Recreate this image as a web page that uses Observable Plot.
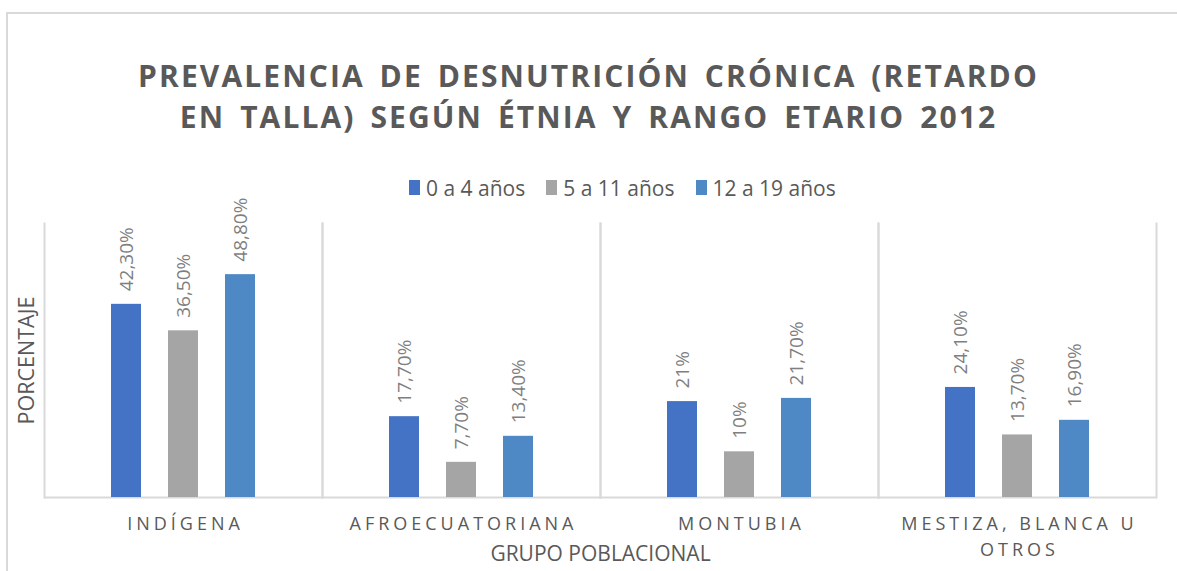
<!DOCTYPE html>
<html>
<head>
<meta charset="utf-8">
<script src="https://cdn.jsdelivr.net/npm/d3@7"></script>
<script src="https://cdn.jsdelivr.net/npm/@observablehq/plot@0.6"></script>
<style>
  html, body { margin: 0; padding: 0; background: #fff; }
  #wrap { position: relative; width: 1177px; height: 571px; overflow: hidden; font-family: "Open Sans", sans-serif; }
  #border { position: absolute; left: 6px; top: 12px; width: 1200px; height: 600px; border-top: 2px solid #d9d9d9; border-left: 2px solid #d9d9d9; }
  #title { position: absolute; left: 0; top: 55px; width: 1177px; text-align: center; font-weight: 700; font-size: 30px; line-height: 41px; color: #595959; letter-spacing: 2.1px; word-spacing: 5px; }
  #legend { position: absolute; left: 409px; top: 171px; }
  #legend .lg-swatches { font-family: "Open Sans", sans-serif; font-size: 21px; color: #595959; margin: 0; }
  #legend .lg-swatch { margin-right: 21px; }
  #legend .lg-swatch > svg { margin-right: 6px; }
  #chart { position: absolute; left: 0; top: 200px; }
  #chart svg { font-family: "Open Sans", sans-serif; overflow: visible; }
  #chart g[aria-label="fx-axis tick label"] { letter-spacing: 4px; }
</style>
</head>
<body>
<div id="wrap">
  <div id="border"></div>
  <div id="title">PREVALENCIA DE DESNUTRICIÓN CRÓNICA (RETARDO<br>EN TALLA) SEGÚN ÉTNIA Y RANGO ETARIO 2012</div>
  <div id="legend"></div>
  <div id="chart"></div>
</div>
<script>
const groups = ["INDÍGENA", "AFROECUATORIANA", "MONTUBIA", "MESTIZA, BLANCA U OTROS"];
const groupLabels = ["INDÍGENA", "AFROECUATORIANA", "MONTUBIA", "MESTIZA, BLANCA U\nOTROS"];
const series = ["0 a 4 años", "5 a 11 años", "12 a 19 años"];
const values0a4 = [42.3, 17.7, 21, 24.1];
const values5a11 = [36.5, 7.7, 10, 13.7];
const values12a19 = [48.8, 13.4, 21.7, 16.9];
const colors = ["#4472C4", "#A5A5A5", "#4E88C5"];

const seriesValues = [values0a4, values5a11, values12a19];
const fmt = v => (Number.isInteger(v) ? String(v) : v.toFixed(2).replace(".", ",")) + "%";
const data = [];
groups.forEach((g, i) => {
  series.forEach((s, j) => {
    data.push({group: g, series: s, value: seriesValues[j][i]});
  });
});

const legend = Plot.legend({
  color: {type: "ordinal", domain: series, range: colors},
  legend: "swatches",
  swatchWidth: 11,
  swatchHeight: 15,
  className: "lg"
});
document.getElementById("legend").appendChild(legend);

const chart = Plot.plot({
  width: 1177,
  height: 371,
  marginTop: 23,
  marginBottom: 74,
  marginLeft: 43,
  marginRight: 20,
  fx: {domain: groups, padding: 0},
  x: {domain: series, paddingInner: 0.478, paddingOuter: 1.165, axis: null},
  y: {domain: [0, 60], axis: null},
  color: {domain: series, range: colors},
  marks: [
    Plot.frame({anchor: "left", stroke: "#d9d9d9", strokeWidth: 2, strokeOpacity: 1}),
    Plot.frame({anchor: "right", stroke: "#d9d9d9", strokeWidth: 2, strokeOpacity: 1}),
    Plot.ruleY([0], {stroke: "#d9d9d9", strokeWidth: 2}),
    Plot.barY(data, {fx: "group", x: "series", y: "value", fill: "series"}),
    Plot.text(data, {
      fx: "group", x: "series", y: "value", text: d => fmt(d.value),
      rotate: -90, textAnchor: "start", dy: -13, fill: "#7f7f7f", fontSize: 19
    }),
    Plot.axisFx({
      anchor: "bottom", tickSize: 0, tickPadding: 14, fontSize: 18, fill: "#595959",
      lineHeight: 1.45, dx: 2, label: null,
      tickFormat: d => groupLabels[groups.indexOf(d)]
    }),
    Plot.axisFx({
      anchor: "bottom", ticks: [], tickSize: 0, fontSize: 21, fill: "#595959",
      label: "GRUPO POBLACIONAL", labelAnchor: "center", labelOffset: 63
    }),
    Plot.axisY({
      anchor: "left", ticks: [], tickSize: 0, label: "PORCENTAJE", labelAnchor: "center",
      labelArrow: "none", labelOffset: 26, fontSize: 21.5, color: "#595959"
    })
  ]
});
document.getElementById("chart").appendChild(chart);
</script>
</body>
</html>
